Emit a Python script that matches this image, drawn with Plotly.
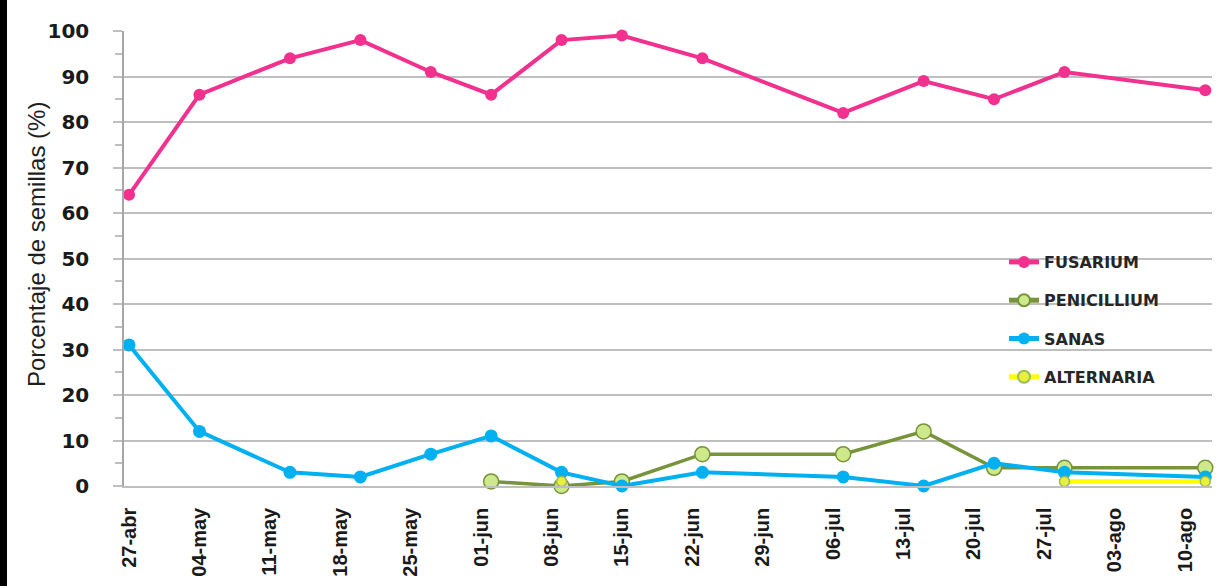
import plotly.graph_objects as go

# Sampling dates and weekly axis labels
fechas = ["2013-04-27", "2013-05-04", "2013-05-13", "2013-05-20", "2013-05-27",
          "2013-06-02", "2013-06-09", "2013-06-15", "2013-06-23", "2013-07-07",
          "2013-07-15", "2013-07-22", "2013-07-29", "2013-08-12"]

fusarium = [64, 86, 94, 98, 91, 86, 98, 99, 94, 82, 89, 85, 91, 87]
penicillium = [None, None, None, None, None, 1, 0, 1, 7, 7, 12, 4, 4, 4]
sanas = [31, 12, 3, 2, 7, 11, 3, 0, 3, 2, 0, 5, 3, 2]
alternaria = [None, None, None, None, None, None, 1, None, None, None, None, None, 1, 1]

tick_fechas = ["2013-04-27", "2013-05-04", "2013-05-11", "2013-05-18", "2013-05-25",
               "2013-06-01", "2013-06-08", "2013-06-15", "2013-06-22", "2013-06-29",
               "2013-07-06", "2013-07-13", "2013-07-20", "2013-07-27", "2013-08-03",
               "2013-08-10"]
tick_textos = ["27-abr", "04-may", "11-may", "18-may", "25-may", "01-jun", "08-jun",
               "15-jun", "22-jun", "29-jun", "06-jul", "13-jul", "20-jul", "27-jul",
               "03-ago", "10-ago"]

titulo_y = "Porcentaje de semillas (%)"

NARROW = "Liberation Sans, Arial, sans-serif"
WIDE = "DejaVu Sans, Verdana, sans-serif"

fig = go.Figure()

fig.add_trace(go.Scatter(
    x=fechas, y=fusarium, name="FUSARIUM", mode="lines+markers",
    line=dict(color="#F2318E", width=4),
    marker=dict(size=12, color="#F2318E"),
    legendgroup="f", cliponaxis=False))

fig.add_trace(go.Scatter(
    x=fechas, y=penicillium, name="PENICILLIUM", mode="lines+markers",
    line=dict(color="#77933C", width=3.5),
    marker=dict(size=15, color="#CDE98A", line=dict(color="#77933C", width=1.5)),
    legendgroup="p", connectgaps=False, cliponaxis=False))

fig.add_trace(go.Scatter(
    x=fechas, y=sanas, name="SANAS", mode="lines+markers",
    line=dict(color="#00B0F0", width=4),
    marker=dict(size=13, color="#00B0F0"),
    legendgroup="s", cliponaxis=False))

fig.add_trace(go.Scatter(
    x=fechas, y=alternaria, name="ALTERNARIA", mode="lines+markers",
    line=dict(color="#FFFF00", width=4.5),
    marker=dict(size=10, color="#E8F03C", line=dict(color="#9BBB59", width=1.5)),
    legendgroup="a", connectgaps=False, cliponaxis=False))

L, R, T, B = 124, 7, 31, 100
W, H = 1219, 586
pw = W - L - R
ph = H - T - B

fig.update_layout(
    width=W, height=H,
    margin=dict(l=L, r=R, t=T, b=B, pad=0),
    paper_bgcolor="white", plot_bgcolor="white",
    showlegend=True,
    legend=dict(
        x=(1004 - L) / pw, y=(H - B - 245) / ph, xanchor="left", yanchor="top",
        bgcolor="rgba(0,0,0,0)", tracegroupgap=14.5, itemsizing="constant",
        font=dict(family=WIDE, size=16, color="#262626", weight="bold"),
    ),
    xaxis=dict(
        type="date", automargin=False,
        range=["2013-04-26 12:00", "2013-08-12 16:00"],
        tickmode="array", tickvals=tick_fechas, ticktext=tick_textos,
        tickangle=-90, ticks="", showgrid=False, zeroline=False,
        showline=True, linecolor="#BFBFBF", linewidth=1.5,
        tickfont=dict(family=NARROW, size=20, color="#1A1A1A", weight="bold"),
        ticklabelstandoff=12,
    ),
    yaxis=dict(
        automargin=False,
        range=[0, 100], tickmode="linear", tick0=0, dtick=10,
        ticks="outside", ticklen=9, tickcolor="#BFBFBF", tickwidth=1.5,
        showgrid=True, gridcolor="#BFBFBF", gridwidth=1.5, zeroline=False,
        showline=True, linecolor="#A6A6A6", linewidth=1.5,
        minor=dict(dtick=5, ticks="outside", ticklen=7, tickcolor="#BFBFBF",
                   tickwidth=1.5, showgrid=False),
        tickfont=dict(family=WIDE, size=20, color="#1A1A1A", weight="bold"),
        ticklabelstandoff=20,
    ),
)

# Vertical axis title
fig.add_annotation(
    text=titulo_y, xref="paper", yref="paper",
    x=(36 - L) / pw, y=(H - B - 245) / ph, xanchor="center", yanchor="middle",
    textangle=-90, showarrow=False,
    font=dict(family=NARROW, size=24, color="#1F1F1F"))

# Black frame along the top and left edges of the picture
fig.add_shape(type="rect", xref="paper", yref="paper",
              x0=-L / pw, x1=(W - L) / pw, y0=(H - B) / ph, y1=(H - B + 6) / ph,
              fillcolor="black", line_width=0, layer="above")
fig.add_shape(type="rect", xref="paper", yref="paper",
              x0=-L / pw, x1=(7 - L) / pw, y0=-B / ph, y1=(H - B + 6) / ph,
              fillcolor="black", line_width=0, layer="above")

fig.write_html("out.html")
